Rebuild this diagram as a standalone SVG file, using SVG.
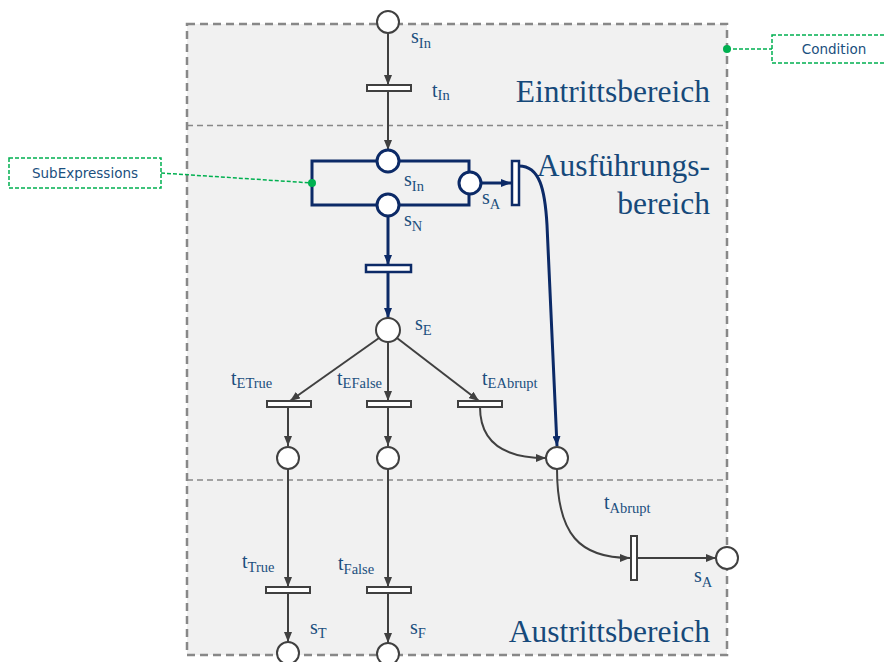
<svg xmlns="http://www.w3.org/2000/svg" width="886" height="662" viewBox="0 0 886 662">
<style>
.lbl{font-family:"Liberation Serif","DejaVu Serif",serif;font-size:20px;fill:#1b4f7e}
.sub{font-size:14.5px}
.region{font-family:"Liberation Serif","DejaVu Serif",serif;font-size:31.5px;fill:#16497a;text-anchor:end}
.note{font-family:"DejaVu Sans","Liberation Sans",sans-serif;font-size:13.5px;fill:#1b4f7e;text-anchor:middle}
.place{fill:#fff;stroke:#404040;stroke-width:2}
.placeN{fill:#fff;stroke:#0c2a67;stroke-width:3}
.trans{fill:#fff;stroke:#404040;stroke-width:2}
.transN{fill:#fff;stroke:#0c2a67;stroke-width:2.5}
.arc{fill:none;stroke:#404040;stroke-width:2;marker-end:url(#ah)}
.arcN{fill:none;stroke:#0c2a67;stroke-width:3;marker-end:url(#ahN)}
.green{fill:none;stroke:#00b050;stroke-width:1.5;stroke-dasharray:4,2}
</style>
<defs>
<marker id="ah" markerUnits="userSpaceOnUse" markerWidth="10" markerHeight="8" refX="10" refY="4" orient="auto"><path d="M0,0 L10,4 L0,8 z" fill="#404040"/></marker>
<marker id="ahN" markerUnits="userSpaceOnUse" markerWidth="10" markerHeight="8" refX="10" refY="4" orient="auto"><path d="M0,0 L10,4 L0,8 z" fill="#0c2a67"/></marker>
</defs>

<g id="regions">
<rect x="187" y="24" width="540" height="631" fill="#f1f1f1" stroke="#888" stroke-width="2.5" stroke-dasharray="8,5"/>
<line x1="187" y1="125.5" x2="727" y2="125.5" stroke="#888" stroke-width="1.5" stroke-dasharray="6,4"/>
<line x1="187" y1="480" x2="727" y2="480" stroke="#888" stroke-width="1.5" stroke-dasharray="6,4"/>
<text class="region" x="710" y="102">Eintrittsbereich</text>
<text class="region" x="710" y="176">Ausführungs-</text>
<text class="region" x="710" y="214">bereich</text>
<text class="region" x="710" y="642">Austrittsbereich</text>
</g>

<g id="connectors">
<line class="arc" x1="388" y1="33" x2="388" y2="85"/>
<line class="arc" x1="388" y1="91" x2="388" y2="150"/>
<line class="arcN" x1="481" y1="183" x2="511" y2="183"/>
<path class="arcN" d="M519,166 C540,166 545,190 547,225 L557,446"/>
<line class="arcN" x1="388" y1="216" x2="388" y2="265"/>
<line class="arcN" x1="388" y1="272" x2="388" y2="318"/>
<line class="arc" x1="379" y1="338" x2="290" y2="401"/>
<line class="arc" x1="388" y1="342" x2="388" y2="401"/>
<line class="arc" x1="397" y1="338" x2="479" y2="401"/>
<line class="arc" x1="288" y1="407" x2="288" y2="446"/>
<line class="arc" x1="388" y1="407" x2="388" y2="446"/>
<path class="arc" d="M480,407 C480,440 500,458 546,458"/>
<line class="arc" x1="288" y1="469" x2="288" y2="587"/>
<line class="arc" x1="388" y1="469" x2="388" y2="587"/>
<line class="arc" x1="288" y1="593" x2="288" y2="642"/>
<line class="arc" x1="388" y1="593" x2="388" y2="643"/>
<path class="arc" d="M557,469 C557,535 580,558 630,558"/>
<line class="arc" x1="637" y1="558" x2="716" y2="558"/>
</g>

<g id="s_in_top"><circle class="place" cx="388" cy="22" r="11"/><text class="lbl" x="411" y="43">s<tspan class="sub" dy="5">In</tspan></text></g>
<g id="t_in"><rect class="trans" x="367" y="85" width="44" height="6"/><text class="lbl" x="432" y="97">t<tspan class="sub" dy="3">In</tspan></text></g>

<g id="subexpressions">
<polyline fill="none" stroke="#0c2a67" stroke-width="3" points="469,172 469,161 312,161 312,205 469,205 469,194"/>
</g>
<g id="s_in_mid"><circle class="placeN" cx="388" cy="161" r="11"/><text class="lbl" x="404" y="186">s<tspan class="sub" dy="5">In</tspan></text></g>
<g id="s_n"><circle class="placeN" cx="388" cy="205" r="11"/><text class="lbl" x="404" y="226">s<tspan class="sub" dy="5">N</tspan></text></g>
<g id="s_a_mid"><circle class="placeN" cx="470" cy="183" r="11"/><text class="lbl" x="482" y="204">s<tspan class="sub" dy="5">A</tspan></text></g>
<g id="t_a_mid"><rect class="transN" x="512" y="161" width="7" height="44"/></g>
<g id="t_n"><rect class="transN" x="366" y="265" width="45" height="7"/></g>

<g id="s_e"><circle class="place" cx="388" cy="330" r="12"/><text class="lbl" x="415" y="330">s<tspan class="sub" dy="5">E</tspan></text></g>
<g id="t_etrue"><rect class="trans" x="267" y="401" width="44" height="6"/><text class="lbl" x="231" y="385">t<tspan class="sub" dy="3">ETrue</tspan></text></g>
<g id="t_efalse"><rect class="trans" x="367" y="401" width="44" height="6"/><text class="lbl" x="337" y="385">t<tspan class="sub" dy="3">EFalse</tspan></text></g>
<g id="t_eabrupt"><rect class="trans" x="458" y="401" width="44" height="6"/><text class="lbl" x="482" y="385">t<tspan class="sub" dy="3">EAbrupt</tspan></text></g>

<g id="p_true"><circle class="place" cx="288" cy="458" r="11"/></g>
<g id="p_false"><circle class="place" cx="388" cy="458" r="11"/></g>
<g id="p_abrupt"><circle class="place" cx="557" cy="458" r="11"/></g>

<g id="t_true"><rect class="trans" x="266" y="587" width="44" height="6"/><text class="lbl" x="242" y="568">t<tspan class="sub" dy="4">True</tspan></text></g>
<g id="t_false"><rect class="trans" x="367" y="587" width="44" height="6"/><text class="lbl" x="338" y="570">t<tspan class="sub" dy="4">False</tspan></text></g>
<g id="s_t"><circle class="place" cx="288" cy="653" r="11"/><text class="lbl" x="310" y="634">s<tspan class="sub" dy="4">T</tspan></text></g>
<g id="s_f"><circle class="place" cx="388" cy="654" r="11"/><text class="lbl" x="410" y="634">s<tspan class="sub" dy="4">F</tspan></text></g>

<g id="t_abrupt"><rect class="trans" x="631" y="536" width="6" height="44"/><text class="lbl" x="604" y="509">t<tspan class="sub" dy="4">Abrupt</tspan></text></g>
<g id="s_a_out"><circle class="place" cx="727" cy="558" r="11"/><text class="lbl" x="694" y="582">s<tspan class="sub" dy="5">A</tspan></text></g>

<g id="condition">
<rect class="green" x="772" y="35" width="120" height="28"/>
<text class="note" x="834" y="54">Condition</text>
<line class="green" x1="727" y1="49" x2="772" y2="49"/>
<circle cx="727" cy="49" r="4" fill="#00b050"/>
</g>
<g id="subexpr_note">
<rect class="green" x="9" y="158" width="152" height="30"/>
<text class="note" x="85" y="178">SubExpressions</text>
<line class="green" x1="161" y1="173" x2="312" y2="183"/>
<circle cx="312" cy="183" r="4" fill="#00b050"/>
</g>
</svg>
